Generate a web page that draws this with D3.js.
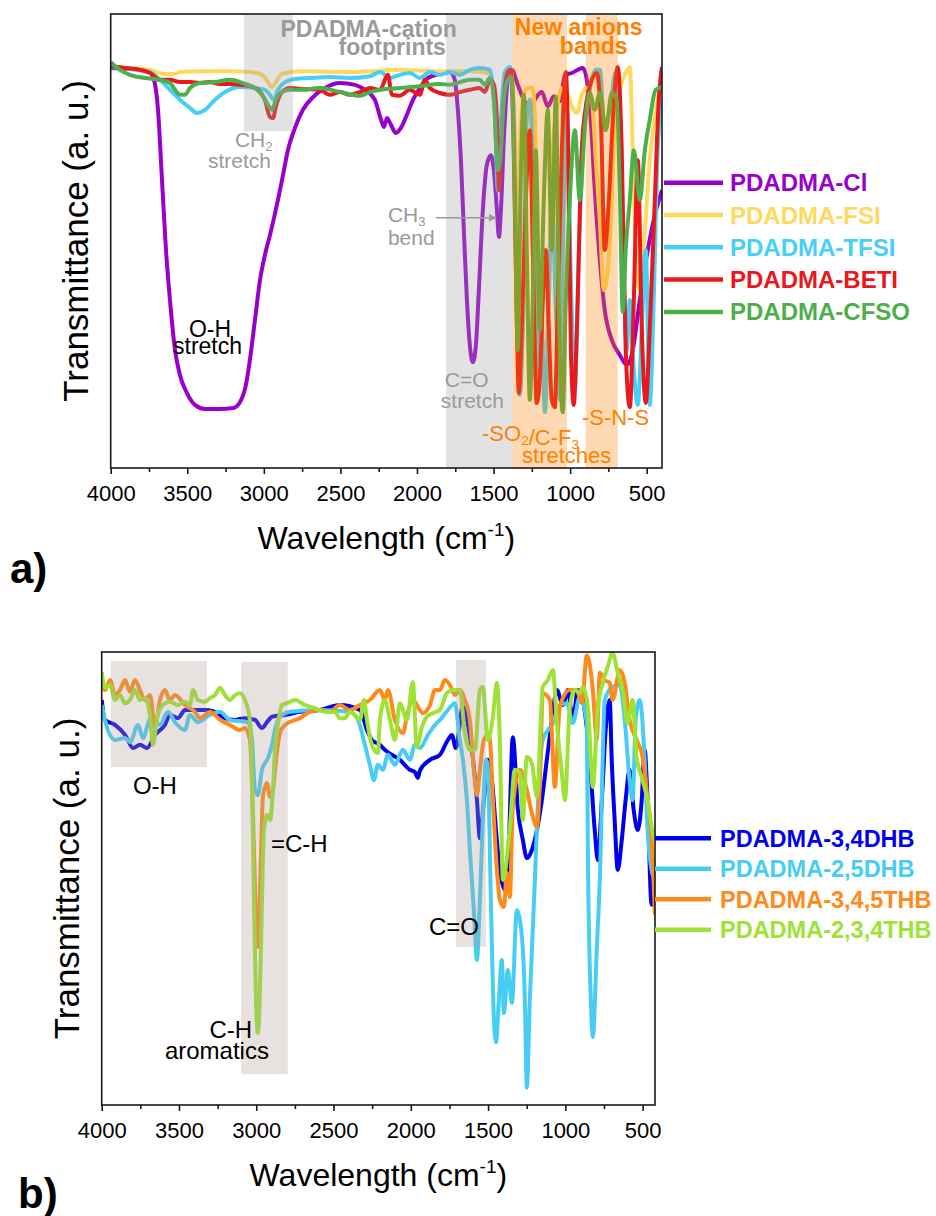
<!DOCTYPE html>
<html>
<head>
<meta charset="utf-8">
<script src="https://cdn.jsdelivr.net/npm/d3@7"></script>
<style>
  body { margin: 0; background: #fff; }
  svg { display: block; font-family: "Liberation Sans", Arial, sans-serif; }
</style>
</head>
<body>
<svg width="936" height="1216"></svg>
<script>
// wavenumber (cm-1), transmittance (a. u., 0-100)
const clSpectrum = [[4000,88.1],[3874,87.9],[3743,87.2],[3717,85.5],[3691,78.9],[3665,63.4],[3639,48.0],[3613,37.0],[3580,26.0],[3548,20.5],[3502,16.5],[3450,13.9],[3384,13.0],[3287,13.0],[3202,13.2],[3156,14.5],[3117,18.3],[3091,23.8],[3058,32.6],[3025,41.4],[2993,46.9],[2960,51.3],[2908,59.0],[2875,64.5],[2843,70.0],[2797,74.9],[2745,78.9],[2679,81.7],[2601,83.7],[2503,84.8],[2405,84.4],[2340,83.3],[2275,81.1],[2235,76.7],[2216,75.1],[2196,77.1],[2170,75.6],[2138,73.8],[2105,74.9],[2066,77.8],[2026,81.1],[1981,83.7],[1929,85.9],[1851,86.8],[1785,87.2],[1753,85.5],[1733,78.9],[1713,67.8],[1694,52.4],[1674,37.0],[1655,27.1],[1635,23.3],[1615,27.1],[1596,39.2],[1570,56.8],[1544,66.7],[1518,68.9],[1498,65.6],[1478,56.8],[1465,50.9],[1452,56.8],[1433,72.2],[1407,85.5],[1381,87.7],[1342,84.4],[1302,81.1],[1263,79.3],[1224,81.5],[1185,82.8],[1146,79.7],[1106,81.9],[1067,80.8],[1034,86.6],[989,87.0],[950,87.7],[917,88.1],[891,85.5],[865,76.7],[839,61.2],[806,45.8],[774,34.8],[728,28.2],[676,24.9],[630,22.7],[597,24.9],[545,37.0],[493,48.0],[447,55.7],[400,61.2]];

const fsiSpectrum = [[4000,88.5],[3874,88.1],[3743,87.7],[3645,86.8],[3580,86.8],[3548,87.2],[3417,87.4],[3221,87.4],[3091,87.2],[3012,86.6],[2973,85.0],[2947,83.9],[2921,85.0],[2882,86.8],[2764,87.4],[2438,87.2],[2112,87.7],[1851,87.4],[1655,87.4],[1537,87.0],[1498,83.3],[1478,74.4],[1459,70.0],[1439,81.1],[1413,86.6],[1387,87.7],[1368,76.7],[1348,48.0],[1329,70.0],[1302,82.2],[1276,83.7],[1244,83.7],[1224,70.0],[1205,41.4],[1178,26.4],[1152,28.2],[1133,48.0],[1113,70.0],[1087,78.9],[1054,83.7],[1015,82.2],[989,79.7],[956,78.2],[924,82.2],[891,83.7],[858,81.1],[832,67.8],[806,54.6],[780,39.2],[754,43.6],[728,59.0],[708,76.7],[676,83.3],[643,86.6],[610,88.3],[591,70.0],[571,48.0],[545,39.2],[512,52.4],[480,67.8],[441,78.9],[400,85.5]];

const tfsiSpectrum = [[4000,88.3],[3874,87.9],[3743,87.2],[3678,85.5],[3613,83.3],[3548,81.1],[3482,79.3],[3437,78.2],[3384,78.9],[3319,81.1],[3254,82.8],[3156,83.9],[3058,83.7],[2993,83.3],[2960,82.2],[2934,81.1],[2908,83.3],[2862,85.0],[2797,85.7],[2699,85.9],[2569,86.1],[2438,85.9],[2308,86.3],[2242,87.2],[2177,85.9],[2112,86.6],[2047,87.0],[1981,85.9],[1916,87.2],[1851,86.6],[1785,87.2],[1720,86.6],[1655,87.7],[1590,88.1],[1524,87.7],[1492,78.9],[1472,61.2],[1452,76.7],[1426,87.2],[1394,88.3],[1368,78.9],[1348,37.0],[1329,16.1],[1309,30.4],[1283,76.7],[1263,81.1],[1237,59.0],[1211,19.4],[1191,37.0],[1165,12.3],[1139,37.0],[1120,59.0],[1093,34.8],[1067,15.0],[1041,59.0],[1021,78.9],[995,41.4],[969,17.2],[943,48.0],[911,72.2],[872,83.3],[832,87.7],[806,87.7],[774,74.4],[741,78.9],[702,87.2],[676,74.4],[650,41.4],[630,26.0],[610,37.0],[584,21.6],[558,13.9],[532,30.4],[506,48.0],[480,13.9],[454,37.0],[428,70.0],[400,81.1]];

const betiSpectrum = [[4000,88.5],[3907,88.1],[3809,87.7],[3743,87.0],[3678,85.5],[3613,85.5],[3548,85.0],[3482,85.0],[3417,84.8],[3352,85.0],[3287,84.6],[3221,84.6],[3156,84.4],[3091,84.1],[3039,83.3],[2993,81.1],[2960,77.3],[2940,77.1],[2921,79.7],[2882,82.8],[2830,83.7],[2764,83.5],[2634,83.3],[2569,82.2],[2503,82.8],[2438,82.2],[2373,82.8],[2308,83.7],[2242,83.3],[2190,86.6],[2164,82.2],[2112,82.0],[2047,83.3],[1981,82.2],[1949,85.5],[1916,83.7],[1851,82.6],[1785,82.2],[1720,82.8],[1655,83.3],[1590,83.7],[1557,82.8],[1524,85.5],[1498,84.4],[1478,76.7],[1465,61.2],[1452,70.0],[1433,81.1],[1407,87.2],[1387,87.7],[1368,70.0],[1348,32.6],[1335,16.5],[1316,30.4],[1289,59.0],[1263,74.4],[1244,48.0],[1218,14.3],[1198,19.4],[1178,37.0],[1159,48.0],[1139,30.4],[1120,15.0],[1100,13.4],[1080,37.0],[1054,70.0],[1028,87.2],[1015,74.4],[995,26.0],[976,13.9],[956,30.4],[924,70.0],[891,81.1],[858,85.5],[826,87.0],[799,76.7],[774,48.0],[747,59.0],[721,76.7],[689,88.3],[663,70.0],[637,26.0],[610,13.4],[584,37.0],[558,67.8],[532,30.4],[506,14.3],[480,30.4],[447,59.0],[421,81.1],[400,88.3]];

const cfsoSpectrum = [[4000,89.4],[3939,87.7],[3874,86.6],[3776,85.9],[3678,85.5],[3613,84.8],[3580,83.3],[3548,82.2],[3515,82.2],[3482,83.7],[3417,84.8],[3319,85.0],[3221,85.5],[3123,84.6],[3058,83.7],[3012,82.2],[2973,80.0],[2947,78.9],[2921,81.1],[2882,82.8],[2830,83.3],[2764,83.3],[2634,83.7],[2503,82.8],[2373,82.0],[2308,82.8],[2242,83.3],[2112,83.7],[1981,84.1],[1851,84.6],[1785,84.4],[1720,85.0],[1655,85.5],[1590,85.5],[1557,84.4],[1524,85.9],[1498,81.1],[1472,65.6],[1452,70.0],[1433,81.1],[1407,85.5],[1381,86.1],[1361,59.0],[1342,26.0],[1322,63.4],[1302,82.2],[1283,48.0],[1263,15.0],[1244,37.0],[1224,70.0],[1198,30.4],[1172,59.0],[1146,78.9],[1120,48.0],[1093,81.7],[1074,37.0],[1048,12.3],[1028,37.0],[1002,59.0],[969,74.4],[937,59.0],[904,75.1],[872,82.6],[839,78.9],[806,82.6],[767,74.4],[728,82.6],[695,81.1],[676,61.9],[656,34.4],[637,48.0],[610,59.0],[584,70.0],[545,59.0],[512,70.0],[480,76.7],[441,83.3],[400,83.9]];

const dhb34Spectrum = [[4000,89.4],[3979,85.0],[3914,83.9],[3849,81.7],[3797,78.8],[3752,79.5],[3707,78.8],[3655,81.7],[3591,83.9],[3558,86.1],[3506,85.4],[3461,87.2],[3397,87.2],[3332,87.2],[3267,86.8],[3203,85.4],[3138,85.0],[3073,85.4],[3008,85.0],[2963,83.2],[2931,84.5],[2898,85.7],[2814,86.1],[2717,86.8],[2588,87.2],[2459,88.3],[2329,87.2],[2284,82.8],[2252,80.6],[2200,79.5],[2168,78.4],[2071,76.2],[2006,74.0],[1974,73.5],[1954,72.2],[1941,73.8],[1876,76.2],[1812,77.3],[1760,80.6],[1734,81.7],[1709,78.8],[1663,87.9],[1637,85.0],[1605,78.4],[1572,67.3],[1553,58.9],[1527,67.3],[1501,76.2],[1475,71.7],[1449,60.7],[1424,51.9],[1391,47.5],[1365,58.5],[1340,81.2],[1307,65.1],[1275,58.5],[1249,54.5],[1217,56.3],[1184,60.7],[1152,67.3],[1120,76.2],[1087,85.0],[1055,91.6],[1016,88.3],[984,91.6],[952,85.0],[919,91.6],[887,89.4],[842,76.2],[810,60.7],[790,54.1],[764,67.3],[739,82.8],[713,89.4],[700,76.2],[681,62.9],[661,51.9],[635,58.5],[610,67.3],[584,74.0],[558,65.1],[532,60.7],[506,67.3],[487,78.4],[468,67.3],[442,44.2],[420,47.5]];

const dhb25Spectrum = [[4000,88.3],[3979,85.0],[3914,80.6],[3849,81.0],[3817,80.1],[3765,83.9],[3733,81.0],[3688,85.0],[3623,83.9],[3571,86.8],[3526,84.5],[3461,82.8],[3429,86.1],[3377,84.5],[3300,86.1],[3235,86.8],[3170,85.0],[3054,84.5],[3028,80.6],[3008,69.5],[2989,68.4],[2963,74.0],[2924,76.6],[2898,79.5],[2879,82.8],[2860,85.0],[2834,86.1],[2782,86.8],[2588,87.2],[2394,86.8],[2342,85.0],[2297,79.5],[2265,75.1],[2239,71.7],[2213,75.1],[2181,74.0],[2148,77.3],[2103,75.1],[2051,78.4],[2006,76.2],[1974,79.5],[1941,78.8],[1889,81.7],[1844,83.9],[1812,85.0],[1760,87.2],[1715,88.7],[1683,80.6],[1663,76.2],[1637,67.3],[1618,56.3],[1592,43.0],[1572,32.0],[1553,45.3],[1534,62.9],[1514,76.2],[1501,74.0],[1482,45.3],[1462,18.8],[1449,13.9],[1430,23.2],[1411,32.0],[1398,20.3],[1372,29.8],[1346,22.5],[1314,43.0],[1281,37.1],[1262,23.2],[1249,3.8],[1230,23.2],[1197,49.7],[1184,61.4],[1146,80.6],[1081,84.3],[1036,88.3],[990,88.7],[952,84.3],[906,90.1],[861,84.3],[854,54.7],[835,23.2],[822,15.0],[797,34.2],[777,49.7],[745,89.4],[694,92.3],[648,92.7],[616,85.0],[584,71.7],[565,67.3],[545,85.0],[519,89.4],[487,76.2],[468,60.7],[442,51.9],[420,49.7]];

const thb345Spectrum = [[4000,93.8],[3979,91.6],[3946,93.8],[3914,90.5],[3882,91.6],[3849,93.8],[3817,91.2],[3785,93.8],[3752,91.6],[3720,89.4],[3688,90.5],[3655,83.4],[3623,89.4],[3591,91.6],[3558,89.4],[3526,90.5],[3461,88.3],[3397,86.8],[3364,85.4],[3300,86.8],[3235,85.0],[3170,83.9],[3106,82.8],[3073,83.2],[3041,80.6],[3028,71.7],[3015,56.3],[3002,40.8],[2989,34.9],[2970,54.1],[2957,68.0],[2931,71.1],[2911,68.0],[2892,69.5],[2872,76.2],[2847,82.1],[2814,83.9],[2717,85.4],[2653,86.8],[2588,87.2],[2523,86.8],[2459,88.3],[2394,87.2],[2329,88.3],[2265,89.4],[2200,91.6],[2168,89.4],[2148,91.6],[2103,85.0],[2051,82.1],[2019,86.8],[1987,89.4],[1922,86.5],[1876,88.3],[1844,91.6],[1812,91.6],[1780,93.8],[1747,92.7],[1715,90.5],[1683,91.6],[1650,89.4],[1618,85.0],[1592,74.0],[1572,68.4],[1553,74.0],[1527,80.6],[1501,81.7],[1488,80.6],[1469,67.3],[1443,51.9],[1424,45.3],[1398,43.7],[1378,51.2],[1359,45.9],[1340,65.8],[1294,74.0],[1249,69.5],[1217,64.5],[1184,61.4],[1165,71.1],[1146,90.9],[1100,89.4],[1068,70.2],[1036,87.9],[971,91.6],[926,91.6],[893,88.7],[861,99.3],[822,91.6],[797,80.6],[777,95.4],[745,93.8],[713,93.2],[694,89.4],[648,96.0],[616,93.2],[584,85.0],[539,80.6],[500,76.8],[474,69.5],[442,58.5],[420,41.9]];

const thb234Spectrum = [[4000,95.6],[3979,92.1],[3946,92.7],[3914,89.4],[3882,90.5],[3849,88.7],[3817,89.4],[3785,91.6],[3752,89.4],[3720,89.8],[3688,86.1],[3668,79.5],[3642,85.4],[3604,88.3],[3558,89.0],[3506,88.3],[3461,89.0],[3429,88.3],[3409,91.6],[3377,89.4],[3332,89.0],[3300,89.8],[3267,90.5],[3235,92.1],[3203,90.5],[3170,89.4],[3138,90.5],[3106,90.9],[3073,89.4],[3041,85.0],[3028,71.7],[3015,45.3],[3002,23.2],[2989,15.9],[2976,25.4],[2963,45.3],[2950,60.7],[2931,64.0],[2911,62.9],[2892,69.5],[2879,78.4],[2860,83.9],[2834,88.3],[2801,88.7],[2750,89.4],[2685,88.3],[2620,87.6],[2556,86.8],[2491,86.8],[2459,85.4],[2426,85.4],[2394,86.8],[2362,86.1],[2329,85.0],[2303,89.4],[2284,85.0],[2252,79.5],[2213,77.7],[2200,85.0],[2168,89.4],[2135,85.0],[2103,80.6],[2071,88.7],[2025,85.0],[1987,93.4],[1961,79.0],[1928,83.4],[1896,85.7],[1857,86.5],[1812,87.2],[1767,90.9],[1728,91.6],[1683,91.6],[1650,82.1],[1618,78.4],[1585,78.4],[1553,91.6],[1534,92.3],[1501,80.6],[1469,85.7],[1443,93.2],[1424,80.6],[1404,49.7],[1359,61.4],[1327,74.0],[1294,73.3],[1275,62.9],[1249,76.8],[1217,75.5],[1184,68.0],[1146,92.3],[1113,93.8],[1081,96.0],[1055,84.3],[1023,73.3],[1003,67.3],[971,87.9],[939,91.6],[906,90.9],[887,92.3],[854,87.9],[822,70.2],[790,87.9],[758,93.2],[726,96.7],[694,99.8],[661,95.4],[629,91.6],[597,84.3],[565,89.4],[539,76.8],[500,71.7],[468,67.3],[442,61.4],[420,58.5]];

const xTicks = [4000, 3500, 3000, 2500, 2000, 1500, 1000, 500];
const xMinorTicks = [3750, 3250, 2750, 2250, 1750, 1250, 750];

const anionNames = ['PDADMA-Cl', 'PDADMA-FSI', 'PDADMA-TFSI', 'PDADMA-BETI', 'PDADMA-CFSO'];
const anionSpectra = [clSpectrum, fsiSpectrum, tfsiSpectrum, betiSpectrum, cfsoSpectrum];
const benzoateNames = ['PDADMA-3,4DHB', 'PDADMA-2,5DHB', 'PDADMA-3,4,5THB', 'PDADMA-2,3,4THB'];
const benzoateSpectra = [dhb34Spectrum, dhb25Spectrum, thb345Spectrum, thb234Spectrum];

const anionColors = ['#9900cc', '#ffd95e', '#47cff7', '#e8181c', '#4caf49'];
const benzoateColors = ['#0000ee', '#47cdf5', '#ff8a1a', '#9de235'];

const svg = d3.select('svg');

const drawPanel = (cfg) => {
    const g = svg.append('g');

    const x = d3.scaleLinear().domain([4000, cfg.xEnd]).range([cfg.left, cfg.right]);
    const y = d3.scaleLinear().domain([0, 100]).range([cfg.bottom, cfg.top]);

    g.append('clipPath').attr('id', cfg.id + '-clip')
        .append('rect')
        .attr('x', cfg.left).attr('y', cfg.top)
        .attr('width', cfg.right - cfg.left).attr('height', cfg.bottom - cfg.top);

    const line = d3.line()
        .x(d => x(d[0]))
        .y(d => y(d[1]))
        .curve(d3.curveMonotoneX);

    //spectra
    g.append('g').attr('clip-path', `url(#${cfg.id}-clip)`)
        .selectAll('path').data(cfg.spectra).enter()
        .append('path')
        .attr('d', line)
        .attr('fill', 'none')
        .attr('stroke', (d, i) => cfg.colors[i])
        .attr('stroke-width', 4)
        .attr('stroke-linejoin', 'round');

    //shaded bands over the lines
    g.selectAll('.band').data(cfg.bands).enter()
        .append('rect')
        .attr('class', 'band')
        .attr('x', d => x(d.from))
        .attr('width', d => x(d.to) - x(d.from))
        .attr('y', d => y(d.top))
        .attr('height', d => y(d.bottom) - y(d.top))
        .attr('fill', d => d.fill)
        .attr('opacity', d => d.opacity);

    //frame
    g.append('rect')
        .attr('x', cfg.left).attr('y', cfg.top)
        .attr('width', cfg.right - cfg.left).attr('height', cfg.bottom - cfg.top)
        .attr('fill', 'none').attr('stroke', '#1a1a1a').attr('stroke-width', 1.6);

    //x axis
    const axisG = g.append('g')
        .attr('transform', `translate(0,${cfg.bottom})`)
        .call(d3.axisBottom(x).tickValues(xTicks).tickSizeInner(6).tickSizeOuter(0).tickPadding(11).tickFormat(d3.format('d')));
    axisG.select('.domain').remove();
    axisG.selectAll('line').attr('stroke', '#1a1a1a').attr('stroke-width', 1.6);
    axisG.selectAll('text').attr('font-size', 22).attr('fill', '#000')
        .attr('font-family', '"Liberation Sans", Arial, sans-serif');

    const minorG = g.append('g')
        .attr('transform', `translate(0,${cfg.bottom})`)
        .call(d3.axisBottom(x).tickValues(xMinorTicks).tickSizeInner(4).tickSizeOuter(0).tickFormat(''));
    minorG.select('.domain').remove();
    minorG.selectAll('line').attr('stroke', '#1a1a1a').attr('stroke-width', 1.6);

    //axis titles
    const xTitle = g.append('text')
        .attr('x', (cfg.left + cfg.right) / 2)
        .attr('y', cfg.bottom + 81)
        .attr('text-anchor', 'middle')
        .attr('font-size', 32);
    xTitle.append('tspan').text('Wavelength (cm');
    xTitle.append('tspan').attr('font-size', 19).attr('dy', -13).text('-1');
    xTitle.append('tspan').attr('dy', 13).text(')');

    g.append('text')
        .attr('transform', `translate(${cfg.left - 23},${(cfg.top + cfg.bottom) / 2}) rotate(-90)`)
        .attr('text-anchor', 'middle')
        .attr('font-size', 35)
        .text('Transmittance (a. u.)');

    //legend
    const legend = g.selectAll('.legend').data(cfg.names).enter()
        .append('g')
        .attr('class', 'legend')
        .attr('transform', (d, i) => `translate(0,${cfg.legendY + i * cfg.legendStep})`);
    legend.append('line')
        .attr('x1', cfg.legendX1).attr('x2', cfg.legendX2)
        .attr('stroke', (d, i) => cfg.colors[i])
        .attr('stroke-width', 4.5);
    legend.append('text')
        .attr('x', cfg.legendX2 + cfg.legendGap)
        .attr('y', 8.5)
        .attr('font-size', cfg.legendFont)
        .attr('font-weight', 'bold')
        .attr('fill', (d, i) => cfg.colors[i])
        .text(d => d);

    //annotations
    cfg.notes.forEach(n => {
        const t = g.append('text')
            .attr('x', x(n.w)).attr('y', y(n.v))
            .attr('text-anchor', n.anchor || 'start')
            .attr('font-size', n.size)
            .attr('font-weight', n.bold ? 'bold' : 'normal')
            .attr('fill', n.color);
        n.parts.forEach(p => {
            if (typeof p === 'string') t.append('tspan').text(p);
            else t.append('tspan').attr('font-size', n.size * 0.62).attr('dy', p.dy).text(p.sub);
        });
    });

    //panel letter
    g.append('text')
        .attr('x', cfg.letterX).attr('y', cfg.letterY)
        .attr('font-size', 42).attr('font-weight', 'bold')
        .text(cfg.letter);

    return { x, y, g };
};

const grey = '#9a9a9a';
const orange = '#ff8000';

const panelA = drawPanel({
    id: 'pa', left: 110.7, right: 662, top: 14, bottom: 468, xEnd: 400,
    spectra: anionSpectra, colors: anionColors, names: anionNames,
    legendX1: 664, legendX2: 723, legendGap: 7, legendY: 182.7, legendStep: 32.3, legendFont: 24,
    letter: 'a)', letterX: 10, letterY: 583,
    bands: [
        { from: 3130, to: 2810, top: 100, bottom: 74.2, fill: '#a0a0a0', opacity: 0.3 },
        { from: 1810, to: 1378, top: 100, bottom: 0, fill: '#a0a0a0', opacity: 0.3 },
        { from: 1378, to: 1020, top: 100, bottom: 0, fill: '#ff8000', opacity: 0.3 },
        { from: 898, to: 689, top: 100, bottom: 0, fill: '#ff8000', opacity: 0.3 }
    ],
    notes: [
        { w: 1740, v: 94.9, anchor: 'end', size: 23, bold: true, color: grey, parts: ['PDADMA-cation'] },
        { w: 1811, v: 91.0, anchor: 'end', size: 23, bold: true, color: grey, parts: ['footprints'] },
        { w: 1361, v: 95.4, size: 23, bold: true, color: orange, parts: ['New anions'] },
        { w: 1067, v: 91.2, size: 23, bold: true, color: orange, parts: ['bands'] },
        { w: 3189, v: 70.8, size: 21, color: grey, parts: ['CH', { sub: '2', dy: 4 }] },
        { w: 3365, v: 66.0, size: 21, color: grey, parts: ['stretch'] },
        { w: 2190, v: 54.2, size: 21, color: grey, parts: ['CH', { sub: '3', dy: 4 }] },
        { w: 2190, v: 49.1, size: 21, color: grey, parts: ['bend'] },
        { w: 1818, v: 17.8, size: 21, color: grey, parts: ['C=O'] },
        { w: 1844, v: 13.2, size: 21, color: grey, parts: ['stretch'] },
        { w: 1575, v: 6.0, size: 22, color: orange, parts: ['-SO', { sub: '2', dy: 4 }, { sub: '', dy: -4 }, '/C-F', { sub: '3', dy: 4 }] },
        { w: 1314, v: 1.0, size: 22, color: orange, parts: ['stretches'] },
        { w: 923, v: 9.5, size: 22, color: orange, parts: ['-S-N-S'] },
        { w: 3489, v: 28.9, size: 23, color: '#000', parts: ['O-H'] },
        { w: 3593, v: 25.1, size: 23, color: '#000', parts: ['stretch'] }
    ]
});

// CH3 bend arrow
svg.append('defs').append('marker')
    .attr('id', 'arrowhead')
    .attr('viewBox', '0 0 10 10').attr('refX', 9).attr('refY', 5)
    .attr('markerWidth', 5).attr('markerHeight', 5).attr('orient', 'auto')
    .append('path').attr('d', 'M0,0L10,5L0,10Z').attr('fill', grey);
panelA.g.append('line')
    .attr('x1', panelA.x(1877)).attr('x2', panelA.x(1485))
    .attr('y1', panelA.y(55.1)).attr('y2', panelA.y(55.1))
    .attr('stroke', grey).attr('stroke-width', 1.5)
    .attr('marker-end', 'url(#arrowhead)');

drawPanel({
    id: 'pb', left: 101.7, right: 655, top: 652, bottom: 1105, xEnd: 420,
    spectra: benzoateSpectra, colors: benzoateColors, names: benzoateNames,
    legendX1: 655, legendX2: 711, legendGap: 9, legendY: 838.3, legendStep: 30.5, legendFont: 23.5,
    letter: 'b)', letterX: 18, letterY: 1208,
    bands: [
        { from: 3940, to: 3319, top: 98.0, bottom: 74.6, fill: '#afa096', opacity: 0.3 },
        { from: 3099, to: 2796, top: 97.8, bottom: 6.8, fill: '#afa096', opacity: 0.3 },
        { from: 1708, to: 1514, top: 98.2, bottom: 34.9, fill: '#afa096', opacity: 0.3 }
    ],
    notes: [
        { w: 3798, v: 68.7, size: 24, color: '#000', parts: ['O-H'] },
        { w: 2905, v: 55.8, size: 24, color: '#000', parts: ['=C-H'] },
        { w: 3303, v: 14.8, size: 24, color: '#000', parts: ['C-H'] },
        { w: 3591, v: 10.2, size: 24, color: '#000', parts: ['aromatics'] },
        { w: 1883, v: 37.5, size: 24, color: '#000', parts: ['C=O'] }
    ]
});
</script>
</body>
</html>
